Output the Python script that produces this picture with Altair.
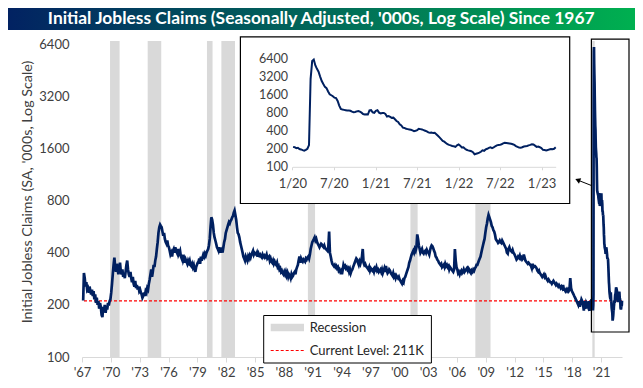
import altair as alt
import pandas as pd

# ---------------- data (thousands) ----------------
# monthly estimates 1967-2019
claims_1967_1979 = [
    212, 305, 285, 255, 270, 245, 250, 235, 255, 240, 230, 245,  # 1967
    225, 240, 215, 230, 205, 220, 200, 210, 190, 205, 195, 175,  # 1968
    170, 195, 185, 200, 180, 195, 188, 205, 198, 210, 215, 235,  # 1969
    265, 300, 340, 375, 330, 310, 345, 320, 300, 330, 350, 310,  # 1970
    300, 320, 290, 305, 285, 310, 340, 360, 320, 300, 290, 310,  # 1971
    285, 270, 290, 265, 255, 275, 250, 260, 245, 255, 240, 245,  # 1972
    235, 230, 220, 225, 235, 225, 240, 235, 250, 245, 265, 280,  # 1973
    300, 320, 290, 310, 340, 330, 360, 380, 420, 460, 520, 560,  # 1974
    580, 570, 560, 530, 500, 520, 480, 460, 450, 470, 440, 430,  # 1975
    410, 390, 400, 380, 410, 420, 400, 430, 410, 400, 420, 390,  # 1976
    400, 410, 380, 370, 390, 360, 370, 350, 365, 355, 345, 360,  # 1977
    350, 360, 340, 335, 345, 330, 340, 320, 310, 330, 340, 350,  # 1978
    355, 370, 345, 380, 360, 375, 390, 380, 395, 385, 400, 410,  # 1979
]
claims_1980_1999 = [
    420, 440, 480, 560, 640, 620, 580, 520, 490, 470, 450, 430,  # 1980
    420, 410, 430, 400, 415, 420, 400, 430, 460, 480, 520, 540,  # 1981
    560, 580, 600, 590, 610, 620, 640, 650, 680, 700, 660, 620,  # 1982
    560, 520, 510, 490, 460, 440, 420, 400, 380, 370, 360, 380,  # 1983
    370, 360, 380, 370, 385, 375, 390, 400, 410, 390, 400, 395,  # 1984
    390, 400, 380, 395, 385, 390, 380, 375, 390, 380, 385, 375,  # 1985
    380, 390, 370, 375, 380, 360, 370, 355, 350, 360, 345, 355,  # 1986
    345, 340, 350, 330, 335, 320, 325, 310, 315, 305, 300, 310,  # 1987
    300, 310, 295, 305, 290, 300, 295, 285, 300, 290, 295, 305,  # 1988
    310, 300, 320, 330, 340, 360, 380, 350, 370, 360, 355, 365,  # 1989
    360, 355, 370, 365, 375, 380, 370, 390, 420, 440, 460, 470,  # 1990
    480, 490, 470, 480, 460, 450, 440, 430, 440, 450, 445, 435,  # 1991
    430, 440, 425, 420, 415, 410, 430, 530, 400, 380, 360, 345,  # 1992
    340, 335, 340, 330, 335, 325, 330, 315, 320, 310, 315, 300,  # 1993
    320, 340, 330, 335, 325, 330, 320, 325, 310, 320, 305, 315,  # 1994
    320, 330, 340, 350, 360, 370, 365, 350, 340, 355, 345, 360,  # 1995
    380, 420, 350, 340, 345, 335, 330, 325, 320, 330, 315, 325,  # 1996
    320, 315, 320, 310, 325, 320, 330, 315, 320, 310, 315, 320,  # 1997
    310, 320, 305, 315, 325, 310, 335, 315, 305, 310, 320, 315,  # 1998
    305, 300, 295, 305, 290, 295, 285, 295, 290, 285, 290, 280,  # 1999
]
claims_2000_2019 = [
    275, 270, 265, 275, 270, 285, 290, 300, 310, 320, 330, 350,  # 2000
    360, 375, 390, 400, 410, 400, 420, 410, 430, 510, 480, 440,  # 2001
    420, 400, 410, 420, 400, 395, 405, 410, 400, 415, 405, 400,  # 2002
    390, 410, 430, 440, 435, 425, 410, 400, 380, 375, 365, 360,  # 2003
    350, 345, 340, 345, 330, 335, 340, 330, 345, 335, 340, 330,  # 2004
    335, 320, 330, 325, 320, 315, 310, 320, 420, 360, 330, 320,  # 2005
    305, 310, 300, 310, 315, 305, 310, 320, 310, 315, 320, 325,  # 2006
    315, 325, 320, 310, 305, 315, 310, 320, 315, 325, 330, 340,  # 2007
    340, 350, 360, 370, 380, 400, 420, 440, 460, 480, 520, 560,  # 2008
    590, 630, 660, 640, 620, 600, 570, 560, 540, 530, 510, 480,  # 2009
    470, 465, 455, 460, 470, 460, 455, 470, 460, 450, 440, 430,  # 2010
    420, 400, 395, 420, 430, 415, 410, 405, 415, 400, 395, 385,  # 2011
    375, 365, 370, 380, 375, 385, 370, 375, 365, 370, 390, 375,  # 2012
    360, 355, 350, 345, 350, 345, 340, 335, 325, 345, 330, 335,  # 2013
    335, 330, 325, 315, 310, 315, 305, 300, 295, 290, 295, 300,  # 2014
    290, 295, 285, 280, 275, 280, 275, 270, 270, 265, 270, 275,  # 2015
    270, 265, 260, 265, 260, 255, 260, 255, 250, 255, 250, 260,  # 2016
    245, 245, 240, 245, 240, 245, 240, 245, 285, 250, 240, 235,  # 2017
    230, 225, 220, 215, 210, 205, 200, 210, 195, 205, 215, 210,  # 2018
    200, 185, 210, 190, 205, 200, 195, 210, 185, 200, 210, 195,  # 2019
]
# weekly, week ending 2020-01-04 .. 2023-03-04
claims_2020 = [
    215, 212, 205, 208,            # Jan
    198, 195, 190, 186, 192,       # Feb
    200, 230, 2900, 5800,          # Mar
    6150, 4900, 4300, 3850,        # Apr
    3200, 2700, 2400, 2150, 2050,  # May
    1800, 1620, 1560, 1500,        # Jun
    1420, 1400, 1250, 1050,        # Jul
    920, 900, 890, 880, 870,       # Aug
    870, 860, 830, 815,            # Sep
    820, 840, 850, 830, 800,       # Oct
    760, 745, 750, 745,            # Nov
    870, 880, 810, 795,            # Dec
]
claims_2021 = [
    860, 880, 800, 775, 790,       # Jan
    790, 760, 690, 700,            # Feb
    680, 655, 660, 620,            # Mar
    580, 560, 510, 490,            # Apr
    450, 445, 430, 425, 420,       # May
    415, 405, 393, 400,            # Jun
    410, 430, 425, 420, 410,       # Jul
    400, 390, 375, 369,            # Aug
    372, 365, 369, 350,            # Sep
    330, 310, 290, 270, 262,       # Oct
    250, 238, 232, 228,            # Nov
    222, 220, 215, 228,            # Dec
]
claims_2022 = [
    236, 225, 210, 212, 200,       # Jan
    192, 188, 185, 182,            # Feb
    175, 162, 165, 168,            # Mar
    172, 178, 188, 185, 195,       # Apr
    200, 207, 212, 205,            # May
    210, 220, 228, 230,            # Jun
    232, 238, 245, 252, 250,       # Jul
    248, 245, 242, 238,            # Aug
    232, 222, 215, 210,            # Sep
    208, 212, 218, 220, 222,       # Oct
    228, 232, 238, 235,            # Nov
    225, 215, 218, 212, 205,       # Dec
]
claims_2023 = [
    192, 190, 188, 190,            # Jan
    195, 198, 196, 200,            # Feb
    211,                           # Mar
]

recession_start = ["1969-12-01", "1973-11-01", "1980-01-01", "1981-07-01",
                   "1990-07-01", "2001-03-01", "2007-12-01", "2020-02-01"]
recession_end = ["1970-11-30", "1975-03-31", "1980-07-31", "1982-11-30",
                 "1991-03-31", "2001-11-30", "2009-06-30", "2020-04-30"]
current_level = 211

y_ticks = [100, 200, 400, 800, 1600, 3200, 6400]
main_tick_years = list(range(1967, 2022, 3))
inset_ticks = [(2020, 1), (2020, 7), (2021, 1), (2021, 7), (2022, 1), (2022, 7), (2023, 1)]

title_text = "Initial Jobless Claims (Seasonally Adjusted, '000s, Log Scale) Since 1967"
y_title = "Initial Jobless Claims (SA, '000s, Log Scale)"

# ---------------- frames ----------------
hist_values = claims_1967_1979 + claims_1980_1999 + claims_2000_2019
hist_dates = pd.date_range("1967-01-15", periods=len(hist_values), freq="MS") + pd.Timedelta(days=14)
covid_values = claims_2020 + claims_2021 + claims_2022 + claims_2023
covid_dates = pd.date_range("2020-01-04", periods=len(covid_values), freq="7D")

hist_df = pd.DataFrame({"date": hist_dates.strftime("%Y-%m-%d"), "claims": hist_values})
covid_df = pd.DataFrame({"date": covid_dates.strftime("%Y-%m-%d"), "claims": covid_values})
main_df = pd.concat([hist_df, covid_df], ignore_index=True)
rec_df = pd.DataFrame({"start": recession_start, "end": recession_end})
level_df = pd.DataFrame({"level": [current_level]})

# ---------------- layout ----------------
W, H = 540, 313
NAVY = "#002060"
GREY = "#d9d9d9"
TXT = "#404040"
FONT = "Lato"

# inset geometry (pixels inside plot area)
IN_L, IN_R, IN_B, IN_T = 210.4, 473.7, 122.8, 14.5

main_x_scale = alt.Scale(domain=[alt.DateTime(year=1967, month=1, date=1),
                                 alt.DateTime(year=2023, month=3, date=4)], nice=False)
main_x_axis = alt.Axis(values=[alt.DateTime(year=y, month=1, date=1) for y in main_tick_years],
                       format="'%y", grid=False, domainColor=GREY, tickColor=GREY, tickSize=5,
                       labelFont=FONT, labelFontSize=13, labelColor=TXT, labelPadding=4,
                       labelFlush=False, labelOverlap=False, labelBound=False, title=None)
main_y_scale = alt.Scale(type="log", base=2, domain=[100, 6400], nice=False)
main_y_axis = alt.Axis(values=y_ticks, format="d", grid=False, domain=False, ticks=False,
                       labelFont=FONT, labelFontSize=13, labelColor=TXT, labelPadding=13,
                       labelOverlap=False, title=None)

bars = alt.Chart(rec_df).mark_rect(color=GREY).encode(
    x=alt.X("start:T", scale=main_x_scale, axis=main_x_axis), x2="end:T",
    y=alt.value(-3), y2=alt.value(H))
level_rule = alt.Chart(level_df).mark_rule(color="#ff0000", strokeDash=[3, 2], strokeWidth=1.2).encode(
    y=alt.Y("level:Q", scale=main_y_scale, axis=main_y_axis))
main_line = alt.Chart(main_df).mark_line(color=NAVY, strokeWidth=2.7).encode(
    x=alt.X("date:T", scale=main_x_scale, axis=main_x_axis),
    y=alt.Y("claims:Q", scale=main_y_scale, axis=main_y_axis))
main_layer = alt.layer(bars, level_rule, main_line)

inset_line = alt.Chart(covid_df).mark_line(color=NAVY, strokeWidth=2).encode(
    x=alt.X("date:T",
            scale=alt.Scale(domain=[alt.DateTime(year=2020, month=1, date=1),
                                    alt.DateTime(year=2023, month=3, date=4)],
                            range=[IN_L, IN_R], nice=False),
            axis=alt.Axis(orient="bottom", offset=IN_B - H, zindex=1,
                          values=[alt.DateTime(year=y, month=m, date=1) for y, m in inset_ticks],
                          format="%-m/%y", grid=False, domainColor=GREY, tickColor=GREY,
                          tickSize=3, labelPadding=8, labelFont=FONT, labelFontSize=13,
                          labelColor=TXT, labelFlush=False, labelOverlap=False, title=None)),
    y=alt.Y("claims:Q",
            scale=alt.Scale(type="log", base=2, domain=[100, 6400], range=[IN_B, IN_T], nice=False),
            axis=alt.Axis(orient="left", offset=-IN_L, zindex=1, values=y_ticks, format="d",
                          grid=False, domain=False, ticks=False, labelPadding=5,
                          labelFont=FONT, labelFontSize=12.5, labelColor=TXT, title=None)),
)

one = pd.DataFrame({"k": [0]})


def rect(x1, x2, y1, y2, **kw):
    return alt.Chart(one).mark_rect(**kw).encode(
        x=alt.value(x1), x2=alt.value(x2), y=alt.value(y1), y2=alt.value(y2))


def label(txt, x, y, **kw):
    return alt.Chart(pd.DataFrame({"t": [txt]})).mark_text(**kw).encode(
        x=alt.value(x), y=alt.value(y), text="t:N")


y_title_mark = label(y_title, -54, 148, angle=270, align="center", baseline="middle",
                     font=FONT, fontSize=14.3, color=TXT)

highlight_box = rect(509.4, 547, -4.8, 288, fill=None, fillOpacity=0, stroke="black", strokeWidth=1.2)
inset_box = rect(158.4, 487.7, -7.2, 159.5, fill="white", stroke="black", strokeWidth=1.2)

arrow_shaft = alt.Chart(one).mark_rule(color="black", strokeWidth=1).encode(
    x=alt.value(509.4), x2=alt.value(496), y=alt.value(141.5), y2=alt.value(136.2))
arrow_head = alt.Chart(one).mark_point(shape="triangle", angle=292, size=35, filled=True,
                                       color="black", opacity=1).encode(
    x=alt.value(496.5), y=alt.value(136.4))

legend_box = rect(181.7, 349.4, 271.5, 319, fill="white", stroke="black", strokeWidth=1)
legend_swatch = rect(188.7, 222, 279.8, 287.2, color=GREY)
legend_dash = alt.Chart(one).mark_rule(color="#ff0000", strokeDash=[3, 2], strokeWidth=1.2).encode(
    x=alt.value(188.7), x2=alt.value(222.7), y=alt.value(306.5))
legend_t1 = label("Recession", 227.7, 283.5, align="left", baseline="middle",
                  font=FONT, fontSize=13, color="#262626")
legend_t2 = label("Current Level: 211K", 227.7, 306.5, align="left", baseline="middle",
                  font=FONT, fontSize=13, color="#262626")

banner = rect(-74, 553, -36, -14, color={
    "gradient": "linear", "x1": 0, "x2": 1, "y1": 0, "y2": 0,
    "stops": [{"offset": 0, "color": "#022262"}, {"offset": 1, "color": "#00b050"}]})
banner_text = label(title_text, 239.2, -25, align="center", baseline="middle",
                    font=FONT, fontSize=17.4, fontWeight="bold", color="white")

chart = alt.layer(
    main_layer, y_title_mark, highlight_box, inset_box, inset_line, arrow_shaft, arrow_head,
    legend_box, legend_swatch, legend_dash, legend_t1, legend_t2, banner, banner_text,
).resolve_scale(x="independent", y="independent").properties(
    width=W, height=H,
    padding={"left": 74, "top": 36, "right": 13, "bottom": 23},
    autosize=alt.AutoSizeParams(type="none"),
).configure_view(stroke=None).configure_axisX(labelOverlap=False)

chart.save("out.html", embed_options={"renderer": "svg", "actions": False})
